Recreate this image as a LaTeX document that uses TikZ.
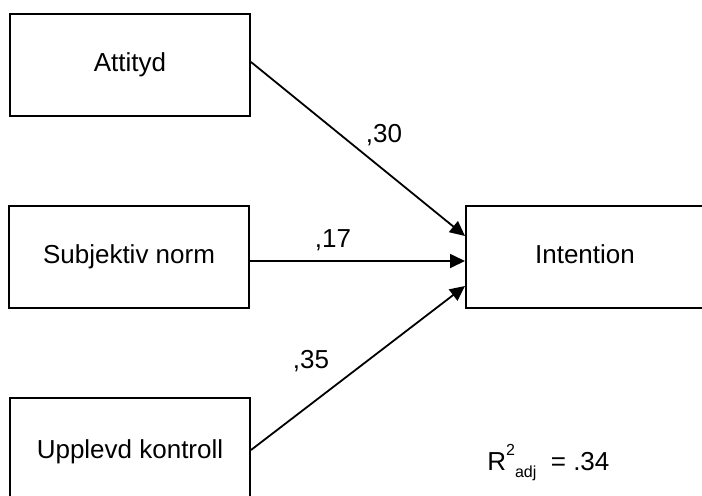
\documentclass[tikz,border=0pt]{standalone}
\usepackage{fontspec}
\setmainfont{Liberation Sans}
\usetikzlibrary{arrows.meta}
\begin{document}
\begin{tikzpicture}[x=0.5pt,y=-0.5pt,
  every node/.style={font=\fontsize{13}{15.6}\selectfont},
  box/.style={draw, line width=1pt, minimum width=120pt, minimum height=51pt, inner sep=0pt,
    text height=0.9em, text depth=0.21em},
  arr/.style={line width=0.9pt, -{Triangle[length=7.5pt,width=7pt]}},
  coef/.style={anchor=base, inner sep=0pt}]
\useasboundingbox (0,0) rectangle (702,495);
\clip (0,0) rectangle (702,495);
\node[box] (att) at (130,65) {Attityd};
\node[box] (sub) at (129,257) {Subjektiv norm};
\node[box, minimum height=54pt] (upp) at (130,452) {Upplevd kontroll};
\node[box, minimum width=119pt] (int) at (585,257) {Intention};
\draw[arr] ([yshift=1.5pt]att.east) -- ([yshift=10.5pt]int.west);
\draw[arr] ([yshift=-2pt]sub.east) -- ([yshift=-2pt]sub.east -| int.west);
\draw[arr] ([yshift=1pt]upp.east) -- ([yshift=-14.5pt]int.west);
\node[coef] (c30) at (384,142) {,30};
\node[coef] (c17) at (333,247) {,17};
\node[coef] (c35) at (311,368) {,35};
\node[anchor=base west, inner sep=0pt] (r2) at (487,470)
  {R\raisebox{0.55em}{\fontsize{8}{9}\selectfont 2}\raisebox{-0.3em}{\fontsize{8}{9}\selectfont adj}\ \ = .34};
\end{tikzpicture}
\end{document}
